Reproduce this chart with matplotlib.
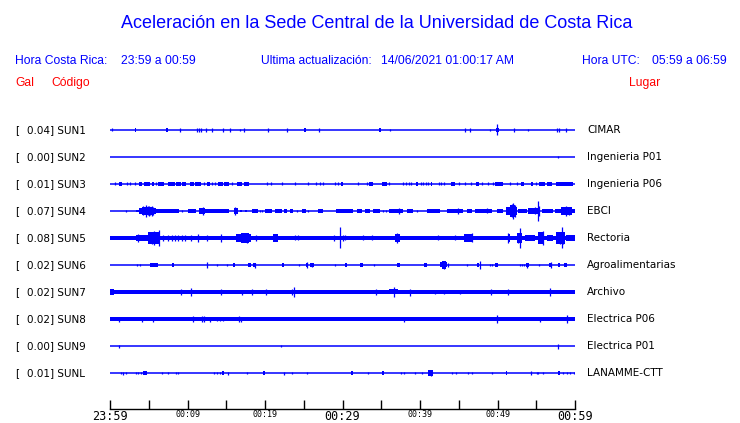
import matplotlib
matplotlib.use("Agg")
import matplotlib.pyplot as plt
import matplotlib.transforms as mtransforms

# Station info
codes = ["SUN1", "SUN2", "SUN3", "SUN4", "SUN5", "SUN6", "SUN7", "SUN8", "SUN9", "SUNL"]
gal_max = ["0.04", "0.00", "0.01", "0.07", "0.08", "0.02", "0.02", "0.02", "0.00", "0.01"]
places = ["CIMAR", "Ingenieria P01", "Ingenieria P06", "EBCI", "Rectoria",
          "Agroalimentarias", "Archivo", "Electrica P06", "Electrica P01", "LANAMME-CTT"]

# half thickness of the background noise band (px), 0 = plain line
floor_px = [0, 0, 0, 0, 2.0, 0, 1.9, 2.1, 0, 0]

# time axis (minutes after 23:59)
tick_minutes = [0, 10, 20, 30, 40, 50, 60]
tick_labels = ["23:59", "00:09", "00:19", "00:29", "00:39", "00:49", "00:59"]
minor_minutes = [5, 15, 25, 35, 45, 55]

# bursts (start min, end min, half amplitude px) and spikes (min, half amplitude px)
sun1_blk = [(3.2, 3.4, 1.3), (7.25, 7.45, 1.3), (25.05, 25.3, 1.5), (34.75, 34.95, 1.5),
            (49.75, 50.15, 1.7)]
sun1_spk = [(0.3, 1.5), (9.07, 2), (11.18, 2), (11.44, 2), (11.74, 2), (12.43, 1.7), (13.2, 1.7),
            (14.62, 1.7), (15.53, 1.7), (16.82, 1), (17.33, 1.7), (20.43, 1.7), (22.88, 1.7),
            (27.0, 1.7), (36.17, 1), (45.85, 1.7), (46.5, 1.7), (49.03, 1), (49.94, 5.5),
            (52.17, 1.7), (53.97, 1), (57.63, 1.7), (57.9, 1.7), (58.8, 1.7)]

sun2_blk = []
sun2_spk = [(57.86, 1.0)]

sun3_blk = [(1.16, 1.5, 1.3), (3.78, 4.09, 1.3), (4.39, 5.16, 1.3), (5.38, 5.72, 1.3),
            (6.15, 7.01, 1.3), (7.48, 8.39, 1.3), (8.52, 9.16, 1.3), (9.29, 9.81, 1.3),
            (10.32, 10.84, 1.3), (11.01, 11.7, 1.3), (12.47, 12.9, 1.3), (13.98, 14.54, 1.3),
            (14.71, 15.35, 1.3), (16.39, 16.99, 1.3), (17.25, 17.98, 1.3), (29.8, 30.0, 1.3),
            (33.46, 33.9, 1.3), (35.14, 35.7, 1.3), (39.5, 39.8, 1.3), (41.4, 41.6, 1.3),
            (44.0, 44.5, 1.3), (47.27, 47.66, 1.3), (49.68, 50.76, 1.3), (53.04, 53.42, 1.3),
            (54.33, 54.63, 1.3), (55.4, 56.09, 1.3), (56.35, 57.04, 1.3), (57.55, 59.79, 1.3)]
sun3_spk = [(0.65, 1.5), (2.15, 1.5), (2.58, 1.5), (3.23, 1.5), (5.89, 1.5), (12.17, 1.5),
            (13.12, 1.5), (13.55, 1.5), (15.7, 1.5), (20.3, 1.5), (20.73, 1.5), (22.24, 1.5),
            (23.91, 1.5), (25.59, 1.5), (26.58, 1.5), (27.1, 1.5), (27.53, 1.5), (29.03, 1.5),
            (29.46, 1.5), (32.05, 1.5), (33.12, 1.5), (36.05, 1.5), (37.85, 1.5), (38.15, 1.5),
            (38.6, 1.5), (38.9, 1.5), (40.1, 1.5), (40.4, 1.5), (40.78, 1.5), (41.03, 1.5),
            (42.45, 1.5), (42.76, 1.5), (43.1, 1.5), (45.0, 1.5), (45.85, 1.5), (46.54, 1.5),
            (47.96, 1.5), (48.73, 1.5), (49.38, 1.5), (51.57, 1.5), (52.52, 1.5), (54.93, 1.5)]

sun4_blk = [(3.31, 3.74, 1.0), (3.78, 5.89, 2.5), (4.1, 5.6, 3.5), (5.89, 8.9, 1.3),
            (10.02, 11.05, 1.3), (11.48, 12.26, 2.5), (12.26, 15.35, 1.3), (15.96, 16.47, 2.5),
            (16.73, 16.99, 1.0), (17.42, 17.68, 1.0), (18.28, 19.14, 1.3), (20.0, 20.86, 1.3),
            (21.29, 22.15, 1.3), (22.45, 22.8, 1.3), (23.22, 23.65, 1.3), (24.73, 25.25, 1.3),
            (26.8, 27.53, 1.3), (29.16, 31.4, 1.3), (31.83, 32.48, 1.3), (32.9, 33.55, 1.3),
            (33.98, 34.84, 1.3), (36.05, 37.85, 1.6), (38.28, 39.14, 1.3), (40.95, 42.58, 1.3),
            (43.44, 45.6, 1.5), (46.0, 46.67, 1.3), (47.1, 49.25, 1.3), (49.9, 50.76, 1.3),
            (51.06, 52.48, 3.0), (51.6, 52.3, 5.0), (52.7, 53.77, 1.5), (53.9, 55.5, 2.5),
            (55.7, 57.2, 1.5), (57.4, 60.0, 1.5), (58.2, 59.6, 3.0)]
sun4_spk = [(2.02, 1.0), (4.3, 4.5), (4.6, 5.7), (4.85, 4.5), (5.0, 5.0), (5.2, 4.0), (5.38, 5.3),
            (5.55, 4.0), (9.25, 1.0), (11.96, 4.0), (16.15, 4.0), (19.3, 1.0), (19.57, 1.0),
            (24.09, 1.0), (25.59, 1.0), (35.2, 1.0), (35.6, 1.0), (37.3, 3.0), (39.57, 1.0),
            (44.9, 3.0), (48.6, 2.5), (51.9, 6.5), (52.05, 8.0), (52.2, 6.0), (54.8, 3.5),
            (55.19, 10.0), (55.35, 5.0), (58.9, 5.0), (59.2, 4.0)]

sun5_blk = [(3.31, 5.16, 2.5), (4.95, 6.45, 4.5), (16.2, 18.2, 3.0), (16.9, 17.9, 4.0),
            (21.08, 21.72, 3.0), (36.8, 37.4, 3.5), (45.7, 46.9, 3.0), (51.3, 51.6, 3.0),
            (52.5, 53.1, 4.0), (53.55, 54.84, 2.5), (55.27, 56.0, 4.5), (56.35, 57.2, 2.3),
            (57.55, 58.7, 4.5), (58.9, 60.0, 2.5)]
sun5_spk = [(3.66, 4.0), (5.38, 6.0), (5.72, 7.0), (6.0, 5.5), (6.32, 8.0), (6.88, 3.0),
            (7.53, 3.0), (7.96, 3.0), (8.39, 3.0), (8.82, 3.0), (9.25, 3.0), (9.68, 3.0),
            (10.45, 3.0), (11.4, 4.0), (12.47, 3.0), (14.32, 4.0), (17.3, 4.5), (17.63, 5.0),
            (18.9, 3.0), (23.87, 2.5), (24.3, 2.5), (28.86, 3.0), (29.72, 10.5), (30.0, 3.0),
            (30.3, 2.5), (32.6, 2.5), (33.77, 2.5), (37.08, 5.0), (42.37, 2.5), (44.5, 2.5),
            (46.67, 4.5), (51.4, 5.0), (52.7, 5.0), (52.95, 10.0), (55.6, 5.5), (55.83, 7.0),
            (58.0, 6.0), (58.37, 10.5), (58.5, 6.0)]

sun6_blk = [(5.16, 6.15, 1.3), (7.96, 8.26, 1.3), (15.9, 16.13, 1.3), (17.76, 18.2, 1.3),
            (18.5, 18.9, 1.8), (22.24, 22.45, 1.3), (25.29, 25.59, 1.8), (25.8, 26.3, 1.3),
            (30.33, 30.63, 1.3), (32.26, 32.6, 1.3), (37.08, 37.42, 1.3), (40.52, 40.86, 1.3),
            (42.58, 43.53, 2.0), (42.8, 43.3, 3.0), (47.3, 47.66, 1.3), (49.68, 50.07, 1.3),
            (53.64, 54.03, 1.8), (56.65, 57.04, 1.8), (57.85, 58.07, 1.3), (58.58, 58.93, 1.3)]
sun6_spk = [(3.53, 1.3), (3.91, 1.3), (12.56, 3.0), (13.85, 1.0), (15.14, 1.0), (18.7, 2.5),
            (24.39, 1.0), (25.45, 3.0), (26.0, 2.0), (29.03, 1.5), (34.11, 1.5), (43.06, 4.0),
            (43.66, 2.0), (46.11, 1.0), (47.79, 3.5), (49.03, 1.0), (49.25, 1.0), (52.9, 1.0),
            (53.1, 1.0), (53.4, 1.3), (53.8, 2.5), (55.4, 1.0), (56.85, 2.8)]

sun7_blk = [(0.0, 0.5, 2.4), (2.5, 3.0, 1.8), (4.5, 5.0, 1.8), (6.0, 6.5, 1.8), (7.2, 7.8, 1.8),
            (8.5, 9.0, 1.8), (13.8, 14.6, 1.8), (16.0, 17.5, 1.7), (20.5, 22.0, 1.7),
            (22.8, 24.5, 1.8), (29.68, 32.26, 1.8), (36.0, 37.2, 2.0), (55.5, 60.0, 1.8)]
sun7_spk = [(9.16, 3.0), (10.45, 4.0), (14.32, 3.0), (17.08, 2.5), (18.28, 3.0), (20.13, 3.0),
            (23.44, 3.0), (23.78, 4.5), (34.33, 3.0), (36.65, 5.0), (38.71, 3.5), (41.94, 2.0),
            (43.1, 2.0), (45.16, 2.0), (49.12, 3.0), (51.4, 3.0), (56.78, 4.0)]

sun8_blk = []
sun8_spk = [(1.2, 2.5), (4.17, 2.5), (5.59, 2.5), (10.75, 3.0), (11.83, 3.0), (12.09, 3.0),
            (12.95, 2.5), (13.85, 2.3), (14.15, 2.3), (14.62, 2.3), (16.69, 3.0), (16.9, 2.5),
            (37.94, 2.5), (49.98, 4.0), (55.49, 2.5), (59.01, 4.0)]

sun9_blk = []
sun9_spk = [(1.2, 1.5), (22.02, 1.3), (57.85, 2.5)]

sunl_blk = [(4.22, 4.73, 1.7), (14.5, 14.71, 1.3), (19.7, 20.0, 1.5), (31.1, 31.3, 1.3),
            (35.14, 35.4, 1.3), (41.08, 41.72, 2.0), (51.1, 51.27, 1.5), (57.85, 58.07, 1.3)]
sunl_spk = [(1.38, 1.3), (1.72, 1.5), (2.02, 1.0), (3.36, 1.0), (3.66, 1.0), (3.96, 1.0),
            (6.67, 1.0), (7.44, 1.0), (8.47, 1.3), (8.73, 1.3), (13.46, 1.0), (13.85, 1.3),
            (14.19, 1.3), (15.27, 1.5), (17.63, 1.0), (22.5, 1.5), (23.53, 1.0), (25.46, 1.0),
            (33.34, 1.0), (37.55, 1.3), (37.94, 1.0), (39.4, 1.0), (40.22, 1.3), (41.42, 3.0),
            (44.17, 1.0), (44.65, 1.3), (46.24, 1.3), (46.76, 1.3), (49.25, 1.0), (54.33, 1.7),
            (55.06, 1.0), (55.27, 1.0), (55.92, 1.0), (58.41, 1.3), (58.93, 1.3), (59.36, 1.0),
            (59.87, 1.3)]

blocks = [sun1_blk, sun2_blk, sun3_blk, sun4_blk, sun5_blk,
          sun6_blk, sun7_blk, sun8_blk, sun9_blk, sunl_blk]
spikes = [sun1_spk, sun2_spk, sun3_spk, sun4_spk, sun5_spk,
          sun6_spk, sun7_spk, sun8_spk, sun9_spk, sunl_spk]

BLUE = "#0000ff"
RED = "#ff0000"
W, H = 740, 423
ROW_PX = 27.0  # pixel distance between traces
BLK_GAIN = 1.25  # blocks look a bit heavier in the original

fig = plt.figure(figsize=(W / 100, H / 100), dpi=100)
fig.patch.set_facecolor("white")


def fx(px):
    return px / W


def fy(py):
    return 1 - py / H


# header
hdr = dict(family="Liberation Sans", color=BLUE, va="center")
fig.text(fx(377), fy(23), "Aceleración en la Sede Central de la Universidad de Costa Rica",
         ha="center", fontsize=13, **hdr)
fig.text(fx(15), fy(61), "Hora Costa Rica:", fontsize=8.7, **hdr)
fig.text(fx(121), fy(61), "23:59 a 00:59", fontsize=8.7, **hdr)
fig.text(fx(261), fy(61), "Ultima actualización:", fontsize=8.7, **hdr)
fig.text(fx(381), fy(61), "14/06/2021 01:00:17 AM", fontsize=8.7, **hdr)
fig.text(fx(582), fy(61), "Hora UTC:", fontsize=8.7, **hdr)
fig.text(fx(652), fy(61), "05:59 a 06:59", fontsize=8.7, **hdr)
red = dict(family="Liberation Sans", color=RED, va="center", fontsize=8.7)
fig.text(fx(15), fy(83), "Gal", **red)
fig.text(fx(51), fy(83), "Código", **red)
fig.text(fx(629), fy(83), "Lugar", **red)

# trace area: x in minutes, y in trace rows
ax = fig.add_axes([fx(110), fy(409), fx(575) - fx(110), (409 - 118) / H])
ax.set_xlim(0, 60)
ax.set_ylim((409 - 130) / ROW_PX, (118 - 130) / ROW_PX)
ax.patch.set_alpha(0)

for i in range(len(codes)):
    ax.hlines(i, 0, 60, color=BLUE, lw=1.1)
    if floor_px[i] > 0:
        f = floor_px[i] / ROW_PX
        ax.fill_between([0, 60], i - f, i + f, color=BLUE, lw=0, antialiased=False)
    for t0, t1, a in blocks[i]:
        a = a * BLK_GAIN / ROW_PX
        ax.fill_between([t0, t1], i - a, i + a, color=BLUE, lw=0, antialiased=False)
    if spikes[i]:
        ts = [s[0] for s in spikes[i]]
        amps = [s[1] / ROW_PX for s in spikes[i]]
        ax.vlines(ts, [i - a for a in amps], [i + a for a in amps], color=BLUE, lw=0.9)

# left / right labels
trans = mtransforms.blended_transform_factory(fig.transFigure, ax.transData)
lab = dict(family="DejaVu Sans", fontsize=7.5, color="black", va="center", transform=trans)
for i in range(len(codes)):
    ax.text(fx(15), i, "[", **lab)
    ax.text(fx(27), i, f"{gal_max[i]}] {codes[i]}", **lab)
    ax.text(fx(587), i, places[i], **lab)

# time axis
for s in ["top", "left", "right"]:
    ax.spines[s].set_visible(False)
ax.spines["bottom"].set_linewidth(1.0)
ax.set_yticks([])
ax.set_xticks(tick_minutes)
ax.set_xticks(minor_minutes, minor=True)
ax.tick_params(axis="x", which="both", direction="in", length=6.5, width=1.0, pad=0.5)
ax.set_xticklabels(tick_labels)
for m, lbl in zip(tick_minutes, ax.get_xticklabels()):
    lbl.set_family("DejaVu Sans Mono")
    lbl.set_fontsize(8.5 if m % 30 == 0 else 6)

fig.savefig("out.png", dpi=100)
